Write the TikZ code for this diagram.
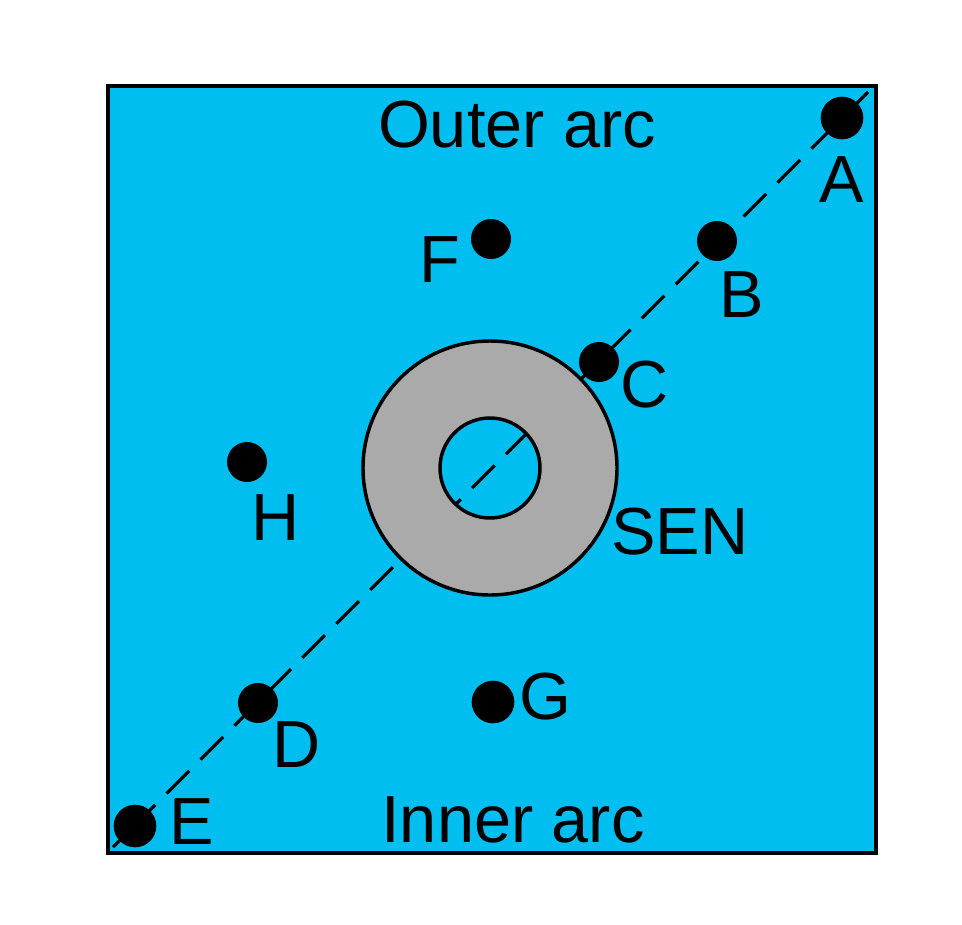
\documentclass[tikz,border=0pt]{standalone}
\usepackage{fontspec}
\setmainfont{Liberation Sans}
\begin{document}
\begin{tikzpicture}[x=0.75pt,y=-0.75pt,
 dot/.style={circle,fill=black,inner sep=0pt,minimum size=#1},
 lbl/.style={font=\fontsize{50}{54}\selectfont,inner sep=0pt}]
\useasboundingbox (0,0) rectangle (962,924);
\fill[white] (0,0) rectangle (962,924);
\draw[line width=2.6pt,fill={rgb,255:red,0;green,191;blue,240}] (108,86) rectangle (876,853);
\coordinate (pA) at (868,92);
\coordinate (pE) at (113,847);
\draw[line width=2.4pt,dash pattern=on 24pt off 12pt] (pA) -- (pE);
\draw[line width=2.6pt,fill={rgb,255:red,170;green,170;blue,170},even odd rule] (490,468) circle (127) (490,468) circle (50);
\node[dot=32pt] (A) at (842,118) {};
\node[dot=30pt] (B) at (717,241) {};
\node[dot=30pt] (C) at (599,362) {};
\node[dot=30pt] (F) at (491,239) {};
\node[dot=30pt] (H) at (247,462) {};
\node[dot=30pt] (D) at (258,703) {};
\node[dot=32pt] (G) at (493,702) {};
\node[dot=32pt] (E) at (135,826) {};
\node[lbl] (lA) at (842,180) {A};
\node[lbl] (lB) at (742,295) {B};
\node[lbl] (lC) at (645,385) {C};
\node[lbl] (lF) at (440,260) {F};
\node[lbl] (lH) at (276,518) {H};
\node[lbl] (lSEN) at (680,532) {SEN};
\node[lbl] (lD) at (297,745) {D};
\node[lbl] (lG) at (545,697) {G};
\node[lbl] (lE) at (192,822) {E};
\node[lbl] (lO) at (517,125) {Outer arc};
\node[lbl] (lI) at (513,820) {Inner arc};
\end{tikzpicture}
\end{document}
